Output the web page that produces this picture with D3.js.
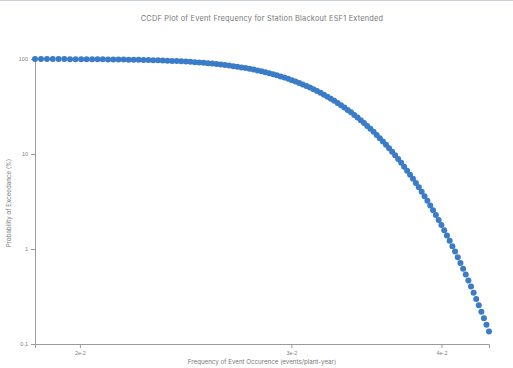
<!DOCTYPE html>
<html>
<head>
<meta charset="utf-8">
<script src="https://cdn.jsdelivr.net/npm/d3@7/dist/d3.min.js"></script>
<style>
  html, body { margin: 0; padding: 0; background: #fff; }
  svg { display: block; font-family: Inter, Lato, "Noto Sans", sans-serif; }
  .axis path, .axis line { stroke: #9a9a9a; }
  .axis text { fill: #808080; font-size: 5.5px; }
</style>
</head>
<body>
<svg id="chart" width="513" height="368"></svg>
<script>
// Event frequency (events/plant-year)
const frequency = [
  0.018350, 0.018562, 0.018775, 0.018987, 0.019199, 0.019411, 0.019624, 0.019836, 0.020048, 0.020260,
  0.020473, 0.020685, 0.020897, 0.021109, 0.021322, 0.021534, 0.021746, 0.021958, 0.022171, 0.022383,
  0.022595, 0.022807, 0.023020, 0.023232, 0.023444, 0.023656, 0.023869, 0.024081, 0.024293, 0.024505,
  0.024718, 0.024930, 0.025142, 0.025354, 0.025567, 0.025779, 0.025991, 0.026203, 0.026416, 0.026628,
  0.026840, 0.027052, 0.027265, 0.027477, 0.027689, 0.027901, 0.028114, 0.028326, 0.028538, 0.028750,
  0.028963, 0.029175, 0.029387, 0.029599, 0.029812, 0.030024, 0.030236, 0.030448, 0.030661, 0.030873,
  0.031085, 0.031297, 0.031510, 0.031722, 0.031934, 0.032146, 0.032359, 0.032571, 0.032783, 0.032995,
  0.033208, 0.033420, 0.033632, 0.033844, 0.034057, 0.034269, 0.034481, 0.034693, 0.034906, 0.035118,
  0.035330, 0.035542, 0.035755, 0.035967, 0.036179, 0.036391, 0.036604, 0.036816, 0.037028, 0.037240,
  0.037453, 0.037665, 0.037877, 0.038089, 0.038302, 0.038514, 0.038726, 0.038938, 0.039151, 0.039363,
  0.039575, 0.039787, 0.040000, 0.040212, 0.040424, 0.040636, 0.040849, 0.041061, 0.041273, 0.041485,
  0.041698, 0.041910, 0.042122, 0.042334, 0.042547, 0.042759, 0.042971, 0.043183, 0.043396, 0.043608,
  0.043820
];

// Probability of exceedance (%)
const exceedance = [
  99.865, 99.841, 99.813, 99.781, 99.744, 99.702, 99.653, 99.598, 99.534, 99.461,
  99.379, 99.286, 99.180, 99.061, 98.928, 98.778, 98.610, 98.422, 98.214, 97.982,
  97.725, 97.44, 97.13, 96.78, 96.41, 95.99, 95.54, 95.05, 94.52, 93.94,
  93.32, 92.65, 91.92, 91.15, 90.32, 89.44, 88.49, 87.49, 86.43, 85.31,
  84.13, 82.89, 81.59, 80.23, 78.81, 77.34, 75.80, 74.22, 72.57, 70.88,
  69.15, 67.36, 65.54, 63.68, 61.79, 59.87, 57.93, 55.96, 53.98, 51.99,
  50.00, 48.01, 46.02, 44.04, 42.07, 40.13, 38.21, 36.32, 34.46, 32.64,
  30.85, 29.12, 27.43, 25.78, 24.20, 22.66, 21.19, 19.77, 18.41, 17.11,
  15.87, 14.69, 13.57, 12.51, 11.51, 10.56, 9.68, 8.85, 8.08, 7.35,
  6.68, 6.06, 5.48, 4.95, 4.46, 4.01, 3.59, 3.22, 2.87, 2.56,
  2.275, 2.018, 1.786, 1.578, 1.390, 1.222, 1.072, 0.939, 0.820, 0.714,
  0.621, 0.539, 0.466, 0.402, 0.347, 0.298, 0.256, 0.219, 0.187, 0.159,
  0.135
];

const xTickValues = [0.02, 0.03, 0.04];
const xTickLabels = ["2e-2", "3e-2", "4e-2"];
const yTickValues = [0.1, 1, 10, 100];
const yTickLabels = ["0.1", "1", "10", "100"];

const titleText = "CCDF Plot of Event Frequency for Station Blackout ESF1 Extended";
const xTitle = "Frequency of Event Occurence (events/plant-year)";
const yTitle = "Probability of Exceedance (%)";

const W = 513, H = 368;
const margin = { left: 35, right: 24, top: 59, bottom: 24 };

const svg = d3.select("#chart");

// thin frame line along the top edge
svg.append("line")
  .attr("x1", 0).attr("x2", W).attr("y1", 0.5).attr("y2", 0.5)
  .attr("stroke", "#c9d0d8").attr("stroke-width", 1);

const data = frequency.map((f, i) => ({ f, p: exceedance[i] }));

const x = d3.scaleLog()
  .domain(d3.extent(frequency))
  .range([margin.left, W - margin.right]);

const y = d3.scaleLog()
  .domain([0.1, 100])
  .range([H - margin.bottom, margin.top]);

// x axis
svg.append("g")
  .attr("class", "axis")
  .attr("transform", `translate(0,${H - margin.bottom})`)
  .call(d3.axisBottom(x)
    .tickValues(xTickValues)
    .tickFormat((d, i) => xTickLabels[i])
    .tickSize(4).tickSizeOuter(4).tickPadding(3));

// y axis
svg.append("g")
  .attr("class", "axis")
  .attr("transform", `translate(${margin.left},0)`)
  .call(d3.axisLeft(y)
    .tickValues(yTickValues)
    .tickFormat((d, i) => yTickLabels[i])
    .tickSize(4).tickSizeOuter(0).tickPadding(3));

// points
svg.append("g")
  .selectAll("circle")
  .data(data)
  .join("circle")
  .attr("cx", d => x(d.f))
  .attr("cy", d => y(d.p))
  .attr("r", 3)
  .attr("fill", "#3a7cc7");

// title
svg.append("text")
  .attr("x", 262).attr("y", 21)
  .attr("text-anchor", "middle")
  .attr("fill", "#777")
  .attr("font-size", 7.4)
  .attr("letter-spacing", 0.2)
  .text(titleText);

// axis titles
svg.append("text")
  .attr("x", 262).attr("y", 364)
  .attr("text-anchor", "middle")
  .attr("fill", "#777")
  .attr("font-size", 6.2)
  .text(xTitle);

svg.append("text")
  .attr("transform", "translate(11,203) rotate(-90)")
  .attr("text-anchor", "middle")
  .attr("fill", "#777")
  .attr("font-size", 6.2)
  .text(yTitle);
</script>
</body>
</html>
